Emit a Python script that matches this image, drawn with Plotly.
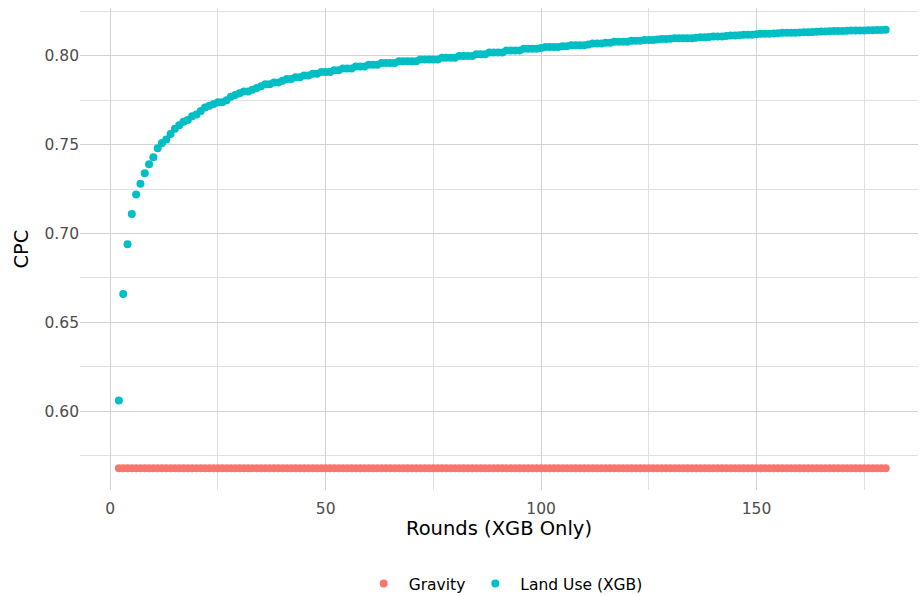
import plotly.graph_objects as go

rounds = list(range(2, 181))

land_use_cpc = [
    0.606, 0.666, 0.694, 0.711, 0.722, 0.728, 0.734, 0.739, 0.743, 0.748,
    0.751, 0.753, 0.756, 0.759, 0.761, 0.763, 0.764, 0.766, 0.767, 0.769,
    0.771, 0.772, 0.773, 0.774, 0.774, 0.775, 0.777, 0.778, 0.779, 0.780,
    0.780, 0.781, 0.782, 0.783, 0.784, 0.784, 0.785, 0.785, 0.786, 0.787,
    0.787, 0.788, 0.788, 0.789, 0.789, 0.790, 0.790, 0.791, 0.791, 0.791,
    0.792, 0.792, 0.793, 0.793, 0.793, 0.794, 0.794, 0.794, 0.795, 0.795,
    0.795, 0.796, 0.796, 0.796, 0.796, 0.797, 0.797, 0.797, 0.797, 0.797,
    0.798, 0.798, 0.798, 0.798, 0.798, 0.799, 0.799, 0.799, 0.799, 0.800,
    0.800, 0.800, 0.800, 0.801, 0.801, 0.801, 0.802, 0.802, 0.802, 0.802,
    0.803, 0.803, 0.803, 0.803, 0.804, 0.804, 0.804, 0.804, 0.8045, 0.805,
    0.805, 0.805, 0.805, 0.8055, 0.8055, 0.806, 0.806, 0.806, 0.806, 0.8065,
    0.807, 0.807, 0.807, 0.8075, 0.8075, 0.808, 0.808, 0.808, 0.808, 0.8085,
    0.8085, 0.8085, 0.809, 0.809, 0.809, 0.8092, 0.8095, 0.8095, 0.8097, 0.810,
    0.810, 0.810, 0.810, 0.810, 0.8102, 0.8105, 0.8105, 0.8107, 0.811, 0.811,
    0.811, 0.8112, 0.8115, 0.8115, 0.8117, 0.812, 0.812, 0.812, 0.8122, 0.8125,
    0.8125, 0.8125, 0.8127, 0.8128, 0.813, 0.813, 0.813, 0.813, 0.8132, 0.8133,
    0.8134, 0.8135, 0.8136, 0.8137, 0.8138, 0.8139, 0.814, 0.814, 0.8141, 0.8142,
    0.8143, 0.8143, 0.8144, 0.8144, 0.8145, 0.8145, 0.8146, 0.8146, 0.8147,
]

gravity_value = 0.5679
gravity_cpc = [gravity_value] * len(rounds)

x_ticks = [0, 50, 100, 150]
y_ticks = [0.60, 0.65, 0.70, 0.75, 0.80]
y_tick_labels = ["0.60", "0.65", "0.70", "0.75", "0.80"]

FONT = "DejaVu Sans"

fig = go.Figure()
fig.add_trace(go.Scatter(
    x=rounds, y=gravity_cpc, mode="markers", name="Gravity",
    marker=dict(color="#F8766D", size=8, line=dict(width=0)),
))
fig.add_trace(go.Scatter(
    x=rounds, y=land_use_cpc, mode="markers", name="Land Use (XGB)",
    marker=dict(color="#00BFC4", size=8, line=dict(width=0)),
))

grid_major = "#d2d2d2"
grid_minor = "#e0e0e0"

fig.update_layout(
    width=920, height=596,
    margin=dict(l=80, r=2, t=8, b=106, autoexpand=False),
    paper_bgcolor="white", plot_bgcolor="white",
    font=dict(family=FONT, color="#000000"),
    showlegend=True,
    legend=dict(
        orientation="h", x=0.505, xanchor="center", y=-0.195, yanchor="middle",
        font=dict(family=FONT, size=15.5, color="#000000"),
        itemsizing="trace", itemwidth=40, tracegroupgap=0,
    ),
    xaxis=dict(
        range=[-7.03, 187.5], automargin=False,
        tickvals=x_ticks,
        ticks="", showline=False, zeroline=False,
        ticklabelstandoff=7,
        showgrid=True, gridcolor=grid_major, gridwidth=1.4,
        minor=dict(tickvals=[25, 75, 125, 175], showgrid=True,
                   gridcolor=grid_minor, gridwidth=1.2),
        tickfont=dict(family=FONT, size=15.5, color="#4D4D4D"),
        title=dict(text="Rounds (XGB Only)", font=dict(family=FONT, size=19.5, color="#000000"),
                   standoff=1),
    ),
    yaxis=dict(
        range=[0.5556, 0.8270], automargin=False,
        tickvals=y_ticks, ticktext=y_tick_labels,
        ticks="", showline=False, zeroline=False,
        showgrid=True, gridcolor=grid_major, gridwidth=1.4,
        minor=dict(tickvals=[0.575, 0.625, 0.675, 0.725, 0.775, 0.825], showgrid=True,
                   gridcolor=grid_minor, gridwidth=1.2),
        tickfont=dict(family=FONT, size=15.5, color="#4D4D4D"),
        title=dict(text="CPC", font=dict(family=FONT, size=19.5, color="#000000"),
                   standoff=10),
    ),
)

fig.write_html("out.html")
